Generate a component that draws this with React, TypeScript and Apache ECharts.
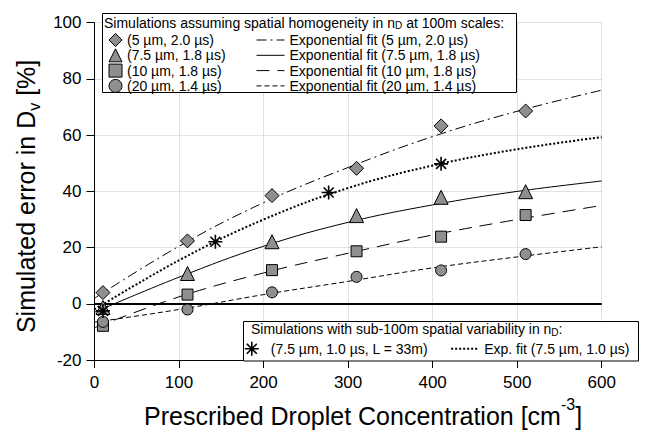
import React, { useEffect, useRef } from "react";
import * as echarts from "echarts";

// prescribed droplet concentration [cm-3] of the homogeneous runs
const concentrations = [10, 110, 210, 310, 410, 510];
// simulated error in Dv [%]
const err5um = [4, 22.4, 38.5, 48.2, 63.3, 68.6];
const err75um = [-1.3, 10.8, 22.1, 31.4, 37.9, 39.9];
const err10um = [-7.8, 3.3, 12, 18.7, 23.9, 31.6];
const err20um = [-6.4, -2, 4.1, 9.6, 11.9, 17.7];

// sub-100m variability runs
const subConc = [10, 143, 277, 410];
const subErr = [-2.5, 22.1, 39.6, 49.8];

// exponential fits
const fitConc = [0, 100, 200, 300, 400, 500, 600];
const fit5um = [2, 20.5, 36, 48.5, 59.5, 68.5, 76];
const fit75um = [-3, 9.5, 20.5, 29, 35.2, 40, 43.7];
const fit10um = [-8.5, 2.5, 11, 18, 24.5, 30, 35];
const fit20um = [-6.5, -2, 3.3, 8, 12.8, 16.7, 20.3];
const fitSub = [-2, 15.5, 30, 41.2, 49.2, 55, 59.3];

const simNames = ["(5 µm, 2.0 µs)", "(7.5 µm, 1.8 µs)", "(10 µm, 1.8 µs)", "(20 µm, 1.4 µs)"];
const fitNames = simNames.map((n) => "Exponential fit " + n);
const subName = "(7.5 µm, 1.0 µs, L = 33m)";
const subFitName = "Exp. fit (7.5 µm, 1.0 µs)";

const FONT = "'Liberation Sans', Arial, Helvetica, sans-serif";
const GRAY = "#8f8f8f";
const ASTERISK = "path://M7,0L7,14M0,7L14,7M2,2L12,12M12,2L2,12";

const pairs = (xs: number[], ys: number[]) => xs.map((x, i) => [x, ys[i]]);

const App = () => {
  const chartRef = useRef<HTMLDivElement>(null);

  useEffect(() => {
    if (!chartRef.current) return;
    const chart = echarts.init(chartRef.current, null, { renderer: "svg" });

    const markers = [
      { data: err5um, symbol: "diamond", size: 14 },
      { data: err75um, symbol: "triangle", size: 14 },
      { data: err10um, symbol: "rect", size: 11 },
      { data: err20um, symbol: "circle", size: 11 },
    ];
    const fits = [
      { data: fit5um, dash: [10, 4, 2, 4] },
      { data: fit75um, dash: "solid" },
      { data: fit10um, dash: [13, 8] },
      { data: fit20um, dash: [5, 3] },
    ];

    const series: any[] = [];
    fits.forEach((f, i) => {
      series.push({
        name: fitNames[i],
        type: "line",
        data: pairs(fitConc, f.data),
        smooth: 0.4,
        symbol: "none",
        showSymbol: false,
        silent: true,
        z: 3,
        lineStyle: { color: "#000", width: 1, type: f.dash },
        markLine:
          i === 1
            ? {
                silent: true,
                symbol: "none",
                label: { show: false },
                lineStyle: { color: "#000", width: 2, type: "solid" },
                data: [{ yAxis: 0 }],
              }
            : undefined,
      });
    });
    series.push({
      name: subFitName,
      type: "line",
      data: pairs(fitConc, fitSub),
      smooth: 0.4,
      symbol: "none",
      showSymbol: false,
      silent: true,
      z: 3,
      lineStyle: { color: "#000", width: 2, type: [2, 2] },
    });
    markers.forEach((m, i) => {
      series.push({
        name: simNames[i],
        type: "scatter",
        data: pairs(concentrations, m.data),
        symbol: m.symbol,
        symbolSize: m.size,
        z: 5,
        itemStyle: { color: GRAY, borderColor: "#000", borderWidth: 1, opacity: 1 },
      });
    });
    series.push({
      name: subName,
      type: "scatter",
      data: pairs(subConc, subErr),
      symbol: ASTERISK,
      symbolSize: 14,
      z: 6,
      itemStyle: { color: "#000", borderColor: "#000", borderWidth: 1.6, opacity: 1 },
    });

    const legendText = { fontSize: 14, color: "#000", fontFamily: FONT };
    const hiddenDot = { color: "transparent", borderWidth: 0, opacity: 0 };
    const boxTitle = (text: string, x: number, y: number) => ({
      type: "text",
      z: 5,
      x,
      y,
      style: {
        text,
        fontSize: 14,
        fontFamily: FONT,
        fill: "#000",
        verticalAlign: "middle",
        lineHeight: 16,
        rich: { sub: { fontSize: 10, fontFamily: FONT, fill: "#000", verticalAlign: "bottom", lineHeight: 10 } },
      },
    });

    const option: any = {
      animation: false,
      backgroundColor: "#fff",
      grid: { left: 94.5, right: 46.3, top: 22.7, bottom: 74.3, containLabel: false },
      xAxis: {
        type: "value",
        min: 0,
        max: 600,
        interval: 100,
        axisLine: { show: true, onZero: false, lineStyle: { color: "#000", width: 1 } },
        axisTick: { show: true, length: 8, lineStyle: { color: "#000", width: 1 } },
        axisLabel: { fontSize: 17, color: "#000", fontFamily: FONT, margin: 14 },
        splitLine: { show: true, lineStyle: { color: "#c4c4c4", type: "dotted", width: 1 } },
        name: "Prescribed Droplet Concentration [cm{sup|-3}]",
        nameLocation: "middle",
        nameGap: 24,
        nameTextStyle: {
          fontSize: 25,
          color: "#000",
          fontFamily: FONT,
          lineHeight: 40,
          padding: [0, 0, 0, 30],
          rich: { sup: { fontSize: 16, fontFamily: FONT, color: "#000", verticalAlign: "top", lineHeight: 16 } },
        },
      },
      yAxis: {
        type: "value",
        min: -20,
        max: 100,
        interval: 20,
        axisLine: { show: true, onZero: false, lineStyle: { color: "#000", width: 1 } },
        axisTick: { show: true, length: 8, lineStyle: { color: "#000", width: 1 } },
        axisLabel: { fontSize: 17, color: "#000", fontFamily: FONT, margin: 13 },
        splitLine: { show: true, lineStyle: { color: "#c4c4c4", type: "dotted", width: 1 } },
        name: "Simulated error in D{sub|v} [%]",
        nameLocation: "middle",
        nameRotate: 90,
        nameGap: 50,
        nameTextStyle: {
          fontSize: 25,
          color: "#000",
          fontFamily: FONT,
          lineHeight: 32,
          padding: [0, 10, 0, 0],
          rich: { sub: { fontSize: 16, fontFamily: FONT, color: "#000", verticalAlign: "bottom", lineHeight: 16 } },
        },
      },
      legend: [
        {
          data: simNames,
          orient: "vertical",
          left: 108.5,
          top: 33,
          padding: 0,
          itemWidth: 13,
          itemHeight: 13,
          itemGap: 1.3,
          selectedMode: false,
          textStyle: legendText,
          itemStyle: { borderColor: "#000", borderWidth: 1 },
        },
        {
          data: fitNames,
          orient: "vertical",
          left: 256,
          top: 33,
          padding: 0,
          itemWidth: 28,
          itemHeight: 14,
          itemGap: 1.3,
          selectedMode: false,
          textStyle: legendText,
          lineStyle: { width: 1 },
          itemStyle: hiddenDot,
        },
        {
          data: [
            { name: subName, itemStyle: { color: "#000", borderColor: "#000", borderWidth: 1.6 } },
            { name: subFitName, lineStyle: { width: 2 }, itemStyle: hiddenDot },
          ],
          orient: "horizontal",
          left: 244,
          top: 341,
          padding: 0,
          itemWidth: 28,
          itemHeight: 14,
          itemGap: 22,
          selectedMode: false,
          textStyle: legendText,
        },
      ],
      graphic: {
        elements: [
          {
            type: "rect",
            z: 3,
            shape: { x: 102.5, y: 13.5, width: 414, height: 79 },
            style: { fill: "#fff", stroke: "#000", lineWidth: 1 },
          },
          boxTitle("Simulations assuming spatial homogeneity in n{sub|D} at 100m scales:", 104, 22.5),
          {
            type: "rect",
            z: 3,
            shape: { x: 243.5, y: 321.5, width: 395, height: 39.5 },
            style: { fill: "#fff", stroke: "#000", lineWidth: 1 },
          },
          boxTitle("Simulations with sub-100m spatial variability in n{sub|D}:", 251, 329),
        ],
      },
      series,
    };

    chart.setOption(option);
    return () => chart.dispose();
  }, []);

  return (
    <div
      ref={chartRef}
      style={{ position: "fixed", left: 0, top: 0, width: 648, height: 441, background: "#fff" }}
    />
  );
};

export default App;
